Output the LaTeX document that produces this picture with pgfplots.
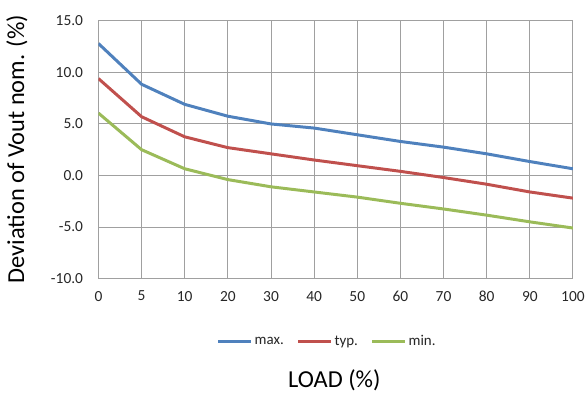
\documentclass[border=0pt]{standalone}
\usepackage{fontspec}
\setmainfont{Carlito}
\usepackage{pgfplots}
\pgfplotsset{compat=1.18}
\definecolor{cmax}{RGB}{79,129,189}
\definecolor{ctyp}{RGB}{192,80,77}
\definecolor{cmin}{RGB}{155,187,89}
\definecolor{cgrid}{RGB}{160,160,160}
\begin{document}
\begin{tikzpicture}[x=1pt,y=1pt]
\begin{axis}[
  at={(0pt,0pt)}, anchor=south west,
  scale only axis, width=477pt, height=259pt,
  xmin=0, xmax=11, ymin=-10, ymax=15,
  xtick={0,...,11},
  xticklabels={0,5,10,20,30,40,50,60,70,80,90,100},
  ytick={-10,-5,0,5,10,15},
  yticklabels={-10.0,-5.0,0.0,5.0,10.0,15.0},
  major tick length=0pt,
  grid=major,
  major grid style={cgrid, line width=1pt},
  axis line style={cgrid, line width=1pt},
  tick label style={font=\fontsize{15.5}{18}\selectfont, text=black!85},
  xticklabel style={yshift=-9pt},
  yticklabel style={xshift=-12pt},
  ylabel={Deviation of Vout nom. (\%)},
  xlabel={LOAD (\%)},
  label style={font=\fontsize{24.5}{28}\selectfont},
  ylabel style={at={(axis description cs:-0.172,0.502)}, anchor=center, rotate=0},
  xlabel style={at={(axis description cs:0.497,-0.394)}, anchor=center},
  legend columns=3,
  legend style={at={(axis description cs:0.482,-0.243)}, anchor=center, draw=none,
    font=\fontsize{15}{18}\selectfont, text=black!85, inner sep=0pt,
    /tikz/every even column/.append style={column sep=11pt}},
  legend cell align=left,
  legend image code/.code={\draw[#1] (0pt,0pt) -- (33pt,0pt);},
  every axis plot/.append style={line width=3pt, line join=round},
]
\addplot[cmax] coordinates {(0,12.8) (1,8.85) (2,6.9) (3,5.75) (4,5.0) (5,4.6) (6,3.95) (7,3.3) (8,2.75) (9,2.1) (10,1.35) (11,0.65)};
\addlegendentry{max.}
\addplot[ctyp] coordinates {(0,9.4) (1,5.7) (2,3.75) (3,2.7) (4,2.1) (5,1.5) (6,0.95) (7,0.4) (8,-0.2) (9,-0.85) (10,-1.6) (11,-2.2)};
\addlegendentry{typ.}
\addplot[cmin] coordinates {(0,6.05) (1,2.5) (2,0.65) (3,-0.4) (4,-1.1) (5,-1.6) (6,-2.1) (7,-2.7) (8,-3.25) (9,-3.85) (10,-4.5) (11,-5.1)};
\addlegendentry{min.}
\end{axis}
\useasboundingbox (-99pt,-114pt) rectangle (489pt,280pt);
\end{tikzpicture}
\end{document}
